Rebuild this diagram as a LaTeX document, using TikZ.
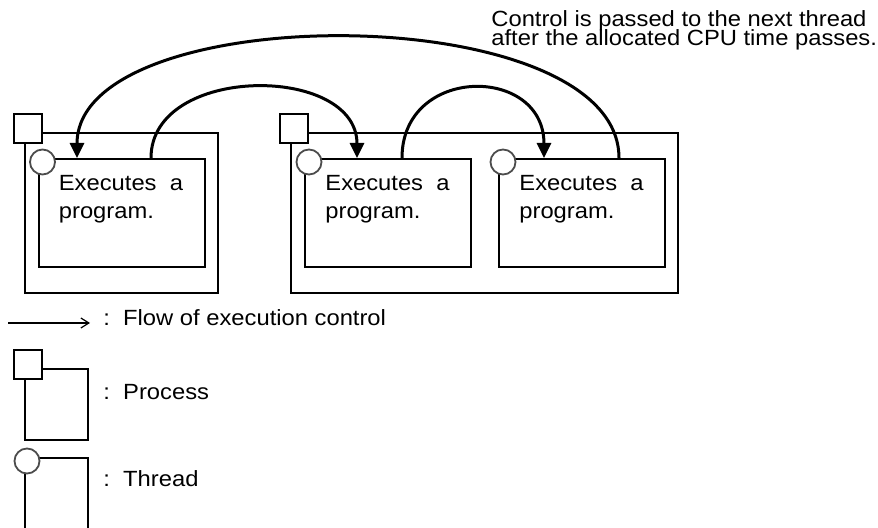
\documentclass[tikz,border=0pt]{standalone}
\usepackage{fontspec}
\setmainfont{Liberation Sans}[FakeStretch=1.08]
\usetikzlibrary{arrows.meta,positioning}
\tikzset{
  procbox/.style={draw, line width=1pt, inner sep=0pt, minimum height=80pt},
  procmark/.style={draw, line width=1pt, fill=white, inner sep=0pt, minimum width=14pt, minimum height=14.5pt},
  thrbox/.style={draw, line width=1pt, fill=white, inner sep=0pt, minimum width=83pt, minimum height=54pt},
  thrmark/.style={circle, draw=black!70, line width=0.9pt, fill=white, inner sep=0pt, minimum size=12.5pt},
  flow/.style={-{Triangle[length=7.5pt,width=7pt]}, line width=1.5pt},
  legflow/.style={-{Straight Barb[length=4pt,width=5pt]}, line width=0.6pt},
  runtxt/.style={font=\fontsize{11pt}{14pt}\selectfont, inner sep=0pt, align=left, anchor=base west},
  note/.style={font={\fontsize{11pt}{9.5pt}\selectfont\lineskiplimit=-\maxdimen}, inner sep=0pt, align=left, anchor=base west},
  lbl/.style={font=\fontsize{11pt}{14pt}\selectfont, inner sep=0pt, anchor=base west},
}
\begin{document}
\begin{tikzpicture}[x=0.5pt,y=0.5pt]
\useasboundingbox (0,0) rectangle (878,-528);
% ---------------- processes
\node[procbox, minimum width=96.5pt] (p1) at (121.5,-213) {};
\node[procbox, minimum width=193.5pt] (p2) at (484.5,-213) {};
\node[procmark] (mp1) at ([shift={(4,3)}]p1.north west) {};
\node[procmark] (mp2) at ([shift={(4,3)}]p2.north west) {};
% ---------------- threads
\foreach \n/\x in {t1/121.5, t2/388, t3/582} {
  \node[thrbox] (\n) at (\x,-213) {};
  \node[thrmark] (m\n) at ([shift={(5,-4)}]\n.north west) {};
  \node[runtxt] (x\n) at ([shift={(21,-61)}]\n.north west) {Executes\ \ a\\program.};
}
% ---------------- control flow
\draw[flow] ([shift={(121,0)}]t3.north west) to[out=90, in=90, looseness=0.76] ([shift={(39.5,0)}]t1.north west);
\draw[flow] ([shift={(113.5,0)}]t1.north west) to[out=90, in=90, looseness=1.17] ([shift={(53,0)}]t2.north west);
\draw[flow] ([shift={(98,0)}]t2.north west) to[out=90, in=90, looseness=1.68] ([shift={(46,0)}]t3.north west);
\node[note] (cpu) at (491,-46) {Control is passed to the next thread\\after the allocated CPU time passes.};
% ---------------- legend
\coordinate (lga) at (8,-323);
\coordinate (lgb) at (90,-323);
\draw[legflow] (lga) -- (lgb);
\node[lbl] (lg1) at (103,-326) {:\ \ Flow of execution control};
\node[procbox, minimum width=31.5pt, minimum height=35.5pt] (lp) at (56.5,-404.5) {};
\node[procmark] (mlp) at ([shift={(4,3)}]lp.north west) {};
\node[lbl] (lg2) at (103,-400) {:\ \ Process};
\node[thrbox, minimum width=31.5pt, minimum height=38.5pt] (lt) at (56.5,-496.5) {};
\node[thrmark] (mlt) at ([shift={(3,-4)}]lt.north west) {};
\node[lbl] (lg3) at (103,-487) {:\ \ Thread};
\end{tikzpicture}
\end{document}
